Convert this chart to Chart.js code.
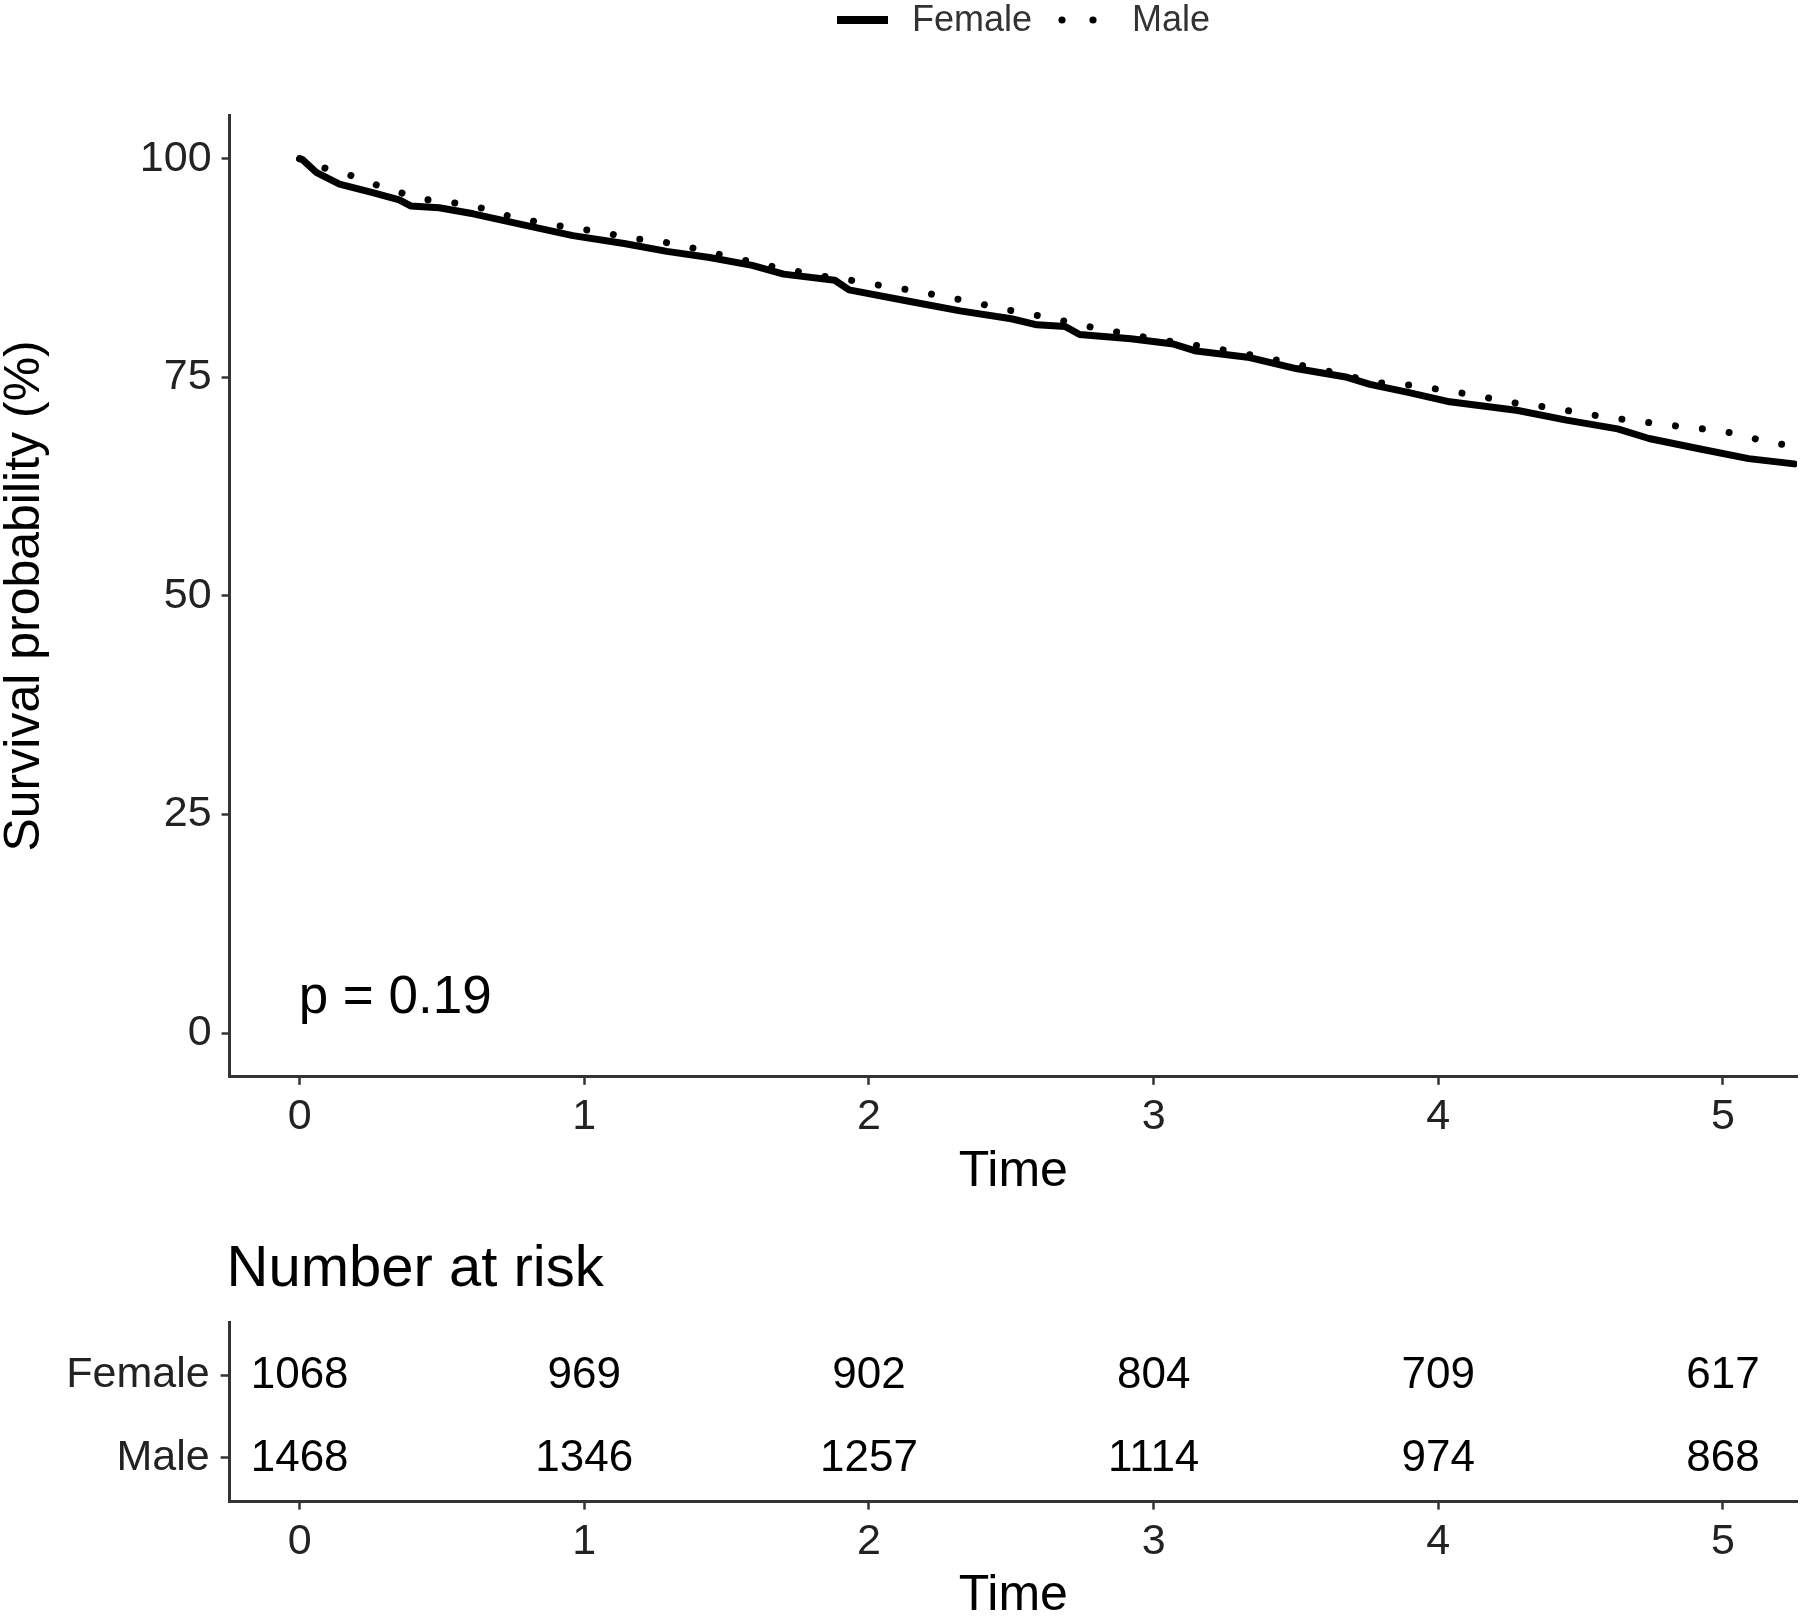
<!DOCTYPE html>
<html>
<head>
<meta charset="utf-8">
<script src="https://cdn.jsdelivr.net/npm/chart.js@4.4.0/dist/chart.umd.min.js"></script>
<style>
  html, body { margin: 0; padding: 0; background: #fff; }
  #wrap { position: relative; width: 1800px; height: 1618px; overflow: hidden; }
  #main { position: absolute; left: 0; top: 0; }
  #risk { position: absolute; left: 0; top: 1200px; }
</style>
</head>
<body>
<div id="wrap">
  <canvas id="main" width="1800" height="1200"></canvas>
  <canvas id="risk" width="1800" height="418"></canvas>
</div>
<script>
// ---------------- data ----------------
const groups = ['Female', 'Male'];
const timeTicks = [0, 1, 2, 3, 4, 5];
const survTicks = [0, 25, 50, 75, 100];

const femaleTime = [0, 0.01, 0.06, 0.14, 0.26, 0.35, 0.39, 0.49, 0.61, 0.79, 0.96, 1.14, 1.29, 1.44, 1.59, 1.70, 1.88, 1.93, 2.14, 2.32, 2.50, 2.59, 2.69, 2.74, 2.92, 3.07, 3.15, 3.33, 3.50, 3.68, 3.76, 3.89, 4.04, 4.28, 4.45, 4.63, 4.74, 4.92, 5.09, 5.25];
const femaleSurv = [100, 99.9, 98.4, 97.1, 96.1, 95.3, 94.6, 94.4, 93.7, 92.4, 91.2, 90.3, 89.4, 88.7, 87.8, 86.8, 86.1, 85.0, 83.7, 82.6, 81.7, 81.0, 80.8, 79.9, 79.4, 78.8, 78.0, 77.3, 76.0, 75.0, 74.2, 73.3, 72.2, 71.2, 70.1, 69.1, 68.0, 66.8, 65.7, 65.1];

const maleTime = [0, 0.08, 0.17, 0.25, 0.33, 0.42, 0.51, 0.60, 0.69, 0.77, 0.87, 0.96, 1.06, 1.15, 1.24, 1.34, 1.52, 1.70, 1.85, 1.98, 2.07, 2.17, 2.26, 2.36, 2.44, 2.52, 2.62, 2.80, 3.00, 3.20, 3.40, 3.60, 3.78, 3.91, 4.10, 4.28, 4.38, 4.56, 4.67, 4.87, 4.96, 5.06, 5.14, 5.25];
const maleSurv = [100, 99.0, 98.2, 97.2, 96.4, 95.4, 95.1, 94.7, 93.9, 93.1, 92.6, 92.0, 91.7, 90.9, 90.7, 90.1, 88.7, 87.4, 86.5, 85.9, 85.3, 84.9, 84.2, 83.7, 83.0, 82.5, 81.9, 80.6, 79.4, 78.4, 77.2, 75.8, 74.4, 74.1, 73.1, 72.0, 71.6, 70.6, 70.1, 69.3, 69.0, 68.5, 67.7, 67.1];

const riskTime = [0, 1, 2, 3, 4, 5];
const riskFemale = [1068, 969, 902, 804, 709, 617];
const riskMale = [1468, 1346, 1257, 1114, 974, 868];

const pValueText = 'p = 0.19';
const yTitle = 'Survival probability (%)';
const xTitle = 'Time';
const riskTitle = 'Number at risk';

// ---------------- styles ----------------
const FONT = "'Liberation Sans', Arial, Helvetica, sans-serif";
const AX = '#333333';
const TXT = '#222222';
const X_MIN = -0.246, X_MAX = 5.26;

function pts(xs, ys) { return xs.map((x, i) => ({ x: x, y: ys[i] })); }

function xScaleOpts(height, titleLH) {
  return {
    type: 'linear', min: X_MIN, max: X_MAX,
    afterBuildTicks: s => { s.ticks = timeTicks.map(v => ({ value: v })); },
    afterFit: s => { s.height = height; },
    ticks: { font: { family: FONT, size: 43 }, color: TXT, padding: 6.5, maxRotation: 0, autoSkip: false },
    grid: { display: true, drawOnChartArea: false, drawTicks: true, tickLength: 8, tickWidth: 2.5, tickColor: AX, color: AX },
    border: { display: true, color: AX, width: 3 },
    title: { display: true, text: xTitle, color: '#000', font: { family: FONT, size: 50, lineHeight: titleLH }, padding: 0 }
  };
}

// ---------------- main chart plugin ----------------
const mainDecor = {
  id: 'mainDecor',
  afterDraw(chart) {
    const ctx = chart.ctx;
    const xs = chart.scales.x, ys = chart.scales.y;
    ctx.save();
    // p-value
    ctx.fillStyle = '#000';
    ctx.font = '53px ' + FONT;
    ctx.textAlign = 'left';
    ctx.textBaseline = 'alphabetic';
    ctx.fillText(pValueText, xs.getPixelForValue(0) - 1, ys.getPixelForValue(2.3));

    // legend
    const ds = chart.data.datasets;
    const ly = 20;
    ctx.font = '36px ' + FONT;
    ctx.fillStyle = '#333';
    ctx.textBaseline = 'middle';
    // female solid sample
    ctx.strokeStyle = ds[0].borderColor;
    ctx.lineWidth = 8;
    ctx.lineCap = 'butt';
    ctx.setLineDash([]);
    ctx.beginPath(); ctx.moveTo(837, ly); ctx.lineTo(888, ly); ctx.stroke();
    ctx.fillText(ds[0].label, 912, ly + 1);
    // male dotted sample
    ctx.fillStyle = ds[1].borderColor;
    [1062, 1093].forEach(cx => { ctx.beginPath(); ctx.arc(cx, ly, 3.6, 0, Math.PI * 2); ctx.fill(); });
    ctx.fillStyle = '#333';
    ctx.fillText(ds[1].label, 1132, ly + 1);
    ctx.restore();
  }
};

new Chart(document.getElementById('main'), {
  type: 'scatter',
  data: {
    datasets: [
      { label: groups[0], data: pts(femaleTime, femaleSurv), showLine: true, borderColor: '#000', backgroundColor: '#000',
        borderWidth: 7, pointRadius: 0, tension: 0, borderJoinStyle: 'round', borderCapStyle: 'round' },
      { label: groups[1], data: pts(maleTime, maleSurv), showLine: true, borderColor: '#000', backgroundColor: '#000',
        borderWidth: 7, pointRadius: 0, tension: 0, borderDash: [0.01, 27], borderCapStyle: 'round', borderJoinStyle: 'round' }
    ]
  },
  options: {
    responsive: false, animation: false, devicePixelRatio: 1,
    layout: { padding: { top: 115, right: 3, left: 0, bottom: 0 } },
    plugins: { legend: { display: false }, tooltip: { enabled: false }, title: { display: false } },
    scales: {
      x: xScaleOpts(123.2, 1.1),
      y: {
        type: 'linear', min: -5, max: 105,
        afterBuildTicks: s => { s.ticks = survTicks.map(v => ({ value: v })); },
        afterFit: s => { s.width = 229.6; },
        ticks: { font: { family: FONT, size: 43 }, color: TXT, padding: 10 },
        grid: { display: true, drawOnChartArea: false, drawTicks: true, tickLength: 8, tickWidth: 2.5, tickColor: AX, color: AX },
        border: { display: true, color: AX, width: 3 },
        title: { display: true, text: yTitle, color: '#000', font: { family: FONT, size: 50, lineHeight: 1.0 }, padding: 0 }
      }
    }
  },
  plugins: [mainDecor]
});

// ---------------- risk table ----------------
const riskDecor = {
  id: 'riskDecor',
  afterDatasetsDraw(chart) {
    const ctx = chart.ctx;
    ctx.save();
    ctx.fillStyle = '#000';
    ctx.font = '44px ' + FONT;
    ctx.textAlign = 'center';
    ctx.textBaseline = 'middle';
    chart.data.datasets.forEach((ds, di) => {
      const meta = chart.getDatasetMeta(di);
      meta.data.forEach((el, i) => {
        ctx.fillText(String(ds.counts[i]), el.x, el.y + 1);
      });
    });
    // title
    ctx.textAlign = 'left';
    ctx.textBaseline = 'alphabetic';
    ctx.font = '58px ' + FONT;
    ctx.fillText(riskTitle, chart.chartArea.left - 3, 85.5);
    ctx.restore();
  }
};

new Chart(document.getElementById('risk'), {
  type: 'scatter',
  data: {
    datasets: [
      { label: groups[0], counts: riskFemale, data: riskTime.map(t => ({ x: t, y: 1 })), pointRadius: 0, showLine: false },
      { label: groups[1], counts: riskMale, data: riskTime.map(t => ({ x: t, y: 2 })), pointRadius: 0, showLine: false }
    ]
  },
  options: {
    responsive: false, animation: false, devicePixelRatio: 1,
    layout: { padding: { top: 122, right: 3, left: 0, bottom: 0 } },
    plugins: { legend: { display: false }, tooltip: { enabled: false } },
    scales: {
      x: xScaleOpts(116.4, 0.86),
      y: {
        type: 'linear', min: 0.3586, max: 2.528, reverse: true,
        afterBuildTicks: s => { s.ticks = [1, 2].map(v => ({ value: v })); },
        afterFit: s => { s.width = 229.6; },
        ticks: { font: { family: FONT, size: 43 }, color: TXT, padding: 11, callback: v => groups[v - 1] },
        grid: { display: true, drawOnChartArea: false, drawTicks: true, tickLength: 9, tickWidth: 2.5, tickColor: AX, color: AX },
        border: { display: true, color: AX, width: 3 }
      }
    }
  },
  plugins: [riskDecor]
});
</script>
</body>
</html>
